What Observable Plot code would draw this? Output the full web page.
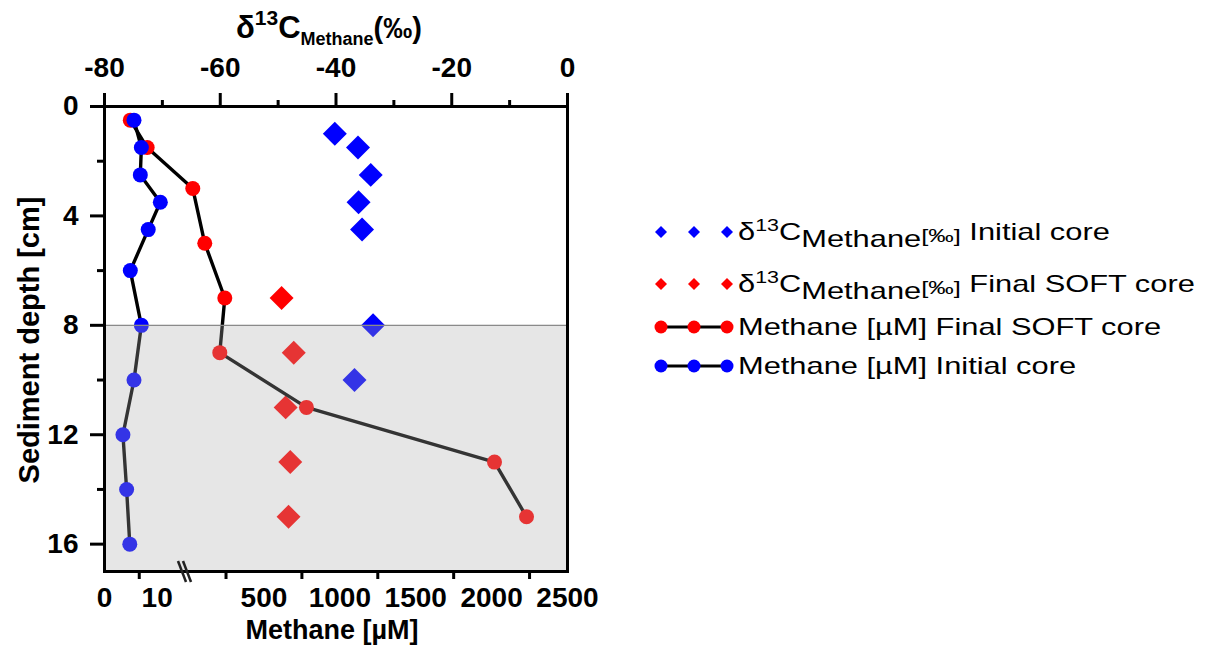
<!DOCTYPE html>
<html>
<head>
<meta charset="utf-8">
<script src="https://cdn.jsdelivr.net/npm/d3@7"></script>
<script src="https://cdn.jsdelivr.net/npm/@observablehq/plot@0.6"></script>
<style>
  body { margin: 0; background: #fff; }
  #wrap { position: relative; width: 1211px; height: 646px; overflow: hidden; background: #fff; }
  #wrap > svg { position: absolute; left: 0; top: 0; }
</style>
</head>
<body>
<div id="wrap"></div>
<script>
// ---------------- data ----------------
// Methane concentration [µM], initial core
const depthInitCH4 = [0.5, 1.5, 2.5, 3.5, 4.5, 6, 8, 10, 12, 14, 16];
const ch4Init      = [5.6, 7.0, 6.8, 10.6, 8.3, 4.9, 7.0, 5.6, 3.5, 4.2, 4.8];
// Methane concentration [µM], final SOFT core
const depthSoftCH4 = [0.5, 1.5, 3, 5, 7, 9, 11, 13, 15];
const ch4Soft      = [4.9, 8.1, 31, 110, 242, 209, 780, 2019, 2230];
// δ13C-CH4 [‰], initial core
const depthInitD13C = [1, 1.5, 2.5, 3.5, 4.5, 8, 10];
const d13cInit      = [-40.2, -36.2, -34.0, -36.1, -35.5, -33.6, -36.8];
// δ13C-CH4 [‰], final SOFT core
const depthSoftD13C = [7, 9, 11, 13, 15];
const d13cSoft      = [-49.4, -47.3, -48.7, -47.9, -48.2];

// axes
const depthTicks      = [0, 4, 8, 12, 16];
const depthMinorTicks = [2, 6, 10, 14];
const depthDomain     = [0, 17];
const d13cTicks       = [-80, -60, -40, -20, 0];
const d13cMinorTicks  = [-70, -50, -30, -10];
const d13cDomain      = [-80, 0];
const ch4TickLabels   = [0, 10, 500, 1000, 1500, 2000, 2500];
const ch4TickMarks    = [6.6, 250, 750, 1250, 1750, 2250];
const ch4Domain       = [0, 15, 16, 2500];   // broken axis: 0–15 | 16–2500
const shadedDepth     = [8, 17];

// legend labels
const legendLabels = ["Initial core", "Final SOFT core", "Methane [µM] Final SOFT core", "Methane [µM] Initial core"];

// ---------------- layout ----------------
const W = 1211, H = 646;
const M = {top: 106, bottom: 75, left: 104, right: 644};
const FONT = '"Liberation Sans", Arial, Helvetica, sans-serif';
const BLUE = "#0000ff", RED = "#ff0000";

const ch4InitData  = depthInitCH4.map((d, i) => ({depth: d, v: ch4Init[i]}));
const ch4SoftData  = depthSoftCH4.map((d, i) => ({depth: d, v: ch4Soft[i]}));
const isoInitData  = depthInitD13C.map((d, i) => ({depth: d, v: d13cInit[i]}));
const isoSoftData  = depthSoftD13C.map((d, i) => ({depth: d, v: d13cSoft[i]}));

const common = {
  width: W, height: H,
  marginTop: M.top, marginBottom: M.bottom, marginLeft: M.left, marginRight: M.right,
  style: {background: "none", fontFamily: FONT, fontWeight: "bold", color: "black"}
};

// ---- lower layer: δ13C (top axis) ----
const plotIso = Plot.plot({
  ...common,
  x: {domain: d13cDomain, label: null},
  y: {domain: depthDomain, reverse: true, axis: null, label: null},
  marks: [
    Plot.dot(isoSoftData, {x: "v", y: "depth", symbol: "diamond2", r: 10.8, fill: RED, stroke: "none"}),
    Plot.dot(isoInitData, {x: "v", y: "depth", symbol: "diamond2", r: 10.8, fill: BLUE, stroke: "none"}),
    Plot.axisX({ticks: d13cTicks, anchor: "top", tickSize: 14, tickPadding: 16, strokeWidth: 3,
                fontSize: 28, label: null, tickFormat: d => String(d)}),
    Plot.axisX({ticks: d13cMinorTicks, anchor: "top", tickSize: 7, strokeWidth: 3,
                label: null, tickFormat: () => ""})
  ]
});

// ---- upper layer: methane (bottom axis), depth axis, shading, frame ----
const xRange = [M.left, 183, 190, W - M.right];
const plotCH4 = Plot.plot({
  ...common,
  x: {type: "linear", domain: ch4Domain, range: xRange, label: null},
  y: {domain: depthDomain, reverse: true, label: null},
  marks: [
    Plot.line(ch4SoftData, {x: "v", y: "depth", stroke: "black", strokeWidth: 3.4}),
    Plot.line(ch4InitData, {x: "v", y: "depth", stroke: "black", strokeWidth: 3.4}),
    Plot.dot(ch4SoftData, {x: "v", y: "depth", r: 7.5, fill: RED, stroke: "none"}),
    Plot.dot(ch4InitData, {x: "v", y: "depth", r: 7.5, fill: BLUE, stroke: "none"}),
    Plot.rect([shadedDepth], {y1: d => d[0], y2: d => d[1], fill: "rgb(172,172,172)", fillOpacity: 0.3}),
    Plot.ruleY([shadedDepth[0]], {stroke: "#8a8a8a", strokeWidth: 1.2}),
    Plot.frame({stroke: "black", strokeWidth: 3}),
    Plot.axisY({ticks: depthTicks, anchor: "left", tickSize: 14, tickPadding: 12, strokeWidth: 3,
                fontSize: 28, label: null, tickFormat: d => String(d)}),
    Plot.axisY({ticks: depthMinorTicks, anchor: "left", tickSize: 7, strokeWidth: 3,
                label: null, tickFormat: () => ""}),
    Plot.axisX({ticks: ch4TickMarks, anchor: "bottom", tickSize: 8, strokeWidth: 3,
                label: null, tickFormat: () => ""}),
    Plot.axisX({ticks: ch4TickLabels, anchor: "bottom", tickSize: 0, tickPadding: 16,
                fontSize: 28, label: null, tickFormat: d => String(d)})
  ]
});

const wrap = document.getElementById("wrap");
wrap.appendChild(plotIso);
wrap.appendChild(plotCH4);

// ---------------- annotations ----------------
const svg = d3.select(plotCH4);
const xs = plotCH4.scale("x");
const yBottom = H - M.bottom;

// axis break marks
const bx = xs.apply((ch4Domain[1] + ch4Domain[2]) / 2);
const brk = svg.append("g").attr("stroke", "#222").attr("stroke-width", 2.5);
[-8.5, -3.5].forEach(o => {
  brk.append("line").attr("x1", bx + o).attr("y1", yBottom - 10).attr("x2", bx + o + 8).attr("y2", yBottom + 11);
});

// top title δ13C Methane (‰)
const tt = svg.append("text").attr("x", 236).attr("y", 38).attr("text-anchor", "start")
  .attr("font-size", 31).attr("font-weight", "bold");
tt.append("tspan").text("δ");
tt.append("tspan").attr("font-size", 21).attr("dy", -13).text("13");
tt.append("tspan").attr("dy", 13).text("C");
tt.append("tspan").attr("font-size", 18).attr("dy", 7).text("Methane");
tt.append("tspan").attr("font-size", 29).attr("dy", -7).text("(‰)");

// bottom title
svg.append("text").attr("x", 332).attr("y", 639).attr("text-anchor", "middle")
  .attr("font-size", 27).attr("font-weight", "bold").text("Methane [µM]");

// left title
svg.append("text").attr("transform", "translate(39,340) rotate(-90)").attr("text-anchor", "middle")
  .attr("font-size", 29).attr("font-weight", "bold").text("Sediment depth [cm]");

// ---------------- legend ----------------
const legRows = [
  {y: 232, kind: "diamond", color: BLUE, iso: true,  label: legendLabels[0]},
  {y: 284, kind: "diamond", color: RED,  iso: true,  label: legendLabels[1]},
  {y: 327, kind: "circle",  color: RED,  iso: false, label: legendLabels[2]},
  {y: 366, kind: "circle",  color: BLUE, iso: false, label: legendLabels[3]}
];
const mx = [661, 694, 727];
const leg = svg.append("g");
legRows.forEach(r => {
  if (r.kind === "circle") {
    leg.append("line").attr("x1", mx[0]).attr("x2", mx[2]).attr("y1", r.y).attr("y2", r.y)
      .attr("stroke", "black").attr("stroke-width", 3);
    mx.forEach(x => leg.append("circle").attr("cx", x).attr("cy", r.y).attr("r", 6.5).attr("fill", r.color));
  } else {
    mx.forEach(x => leg.append("path")
      .attr("d", `M${x},${r.y - 6}L${x + 6},${r.y}L${x},${r.y + 6}L${x - 6},${r.y}Z`).attr("fill", r.color));
  }
  const g = leg.append("g").attr("transform", `translate(738,${r.y + 8}) scale(1.34,1)`);
  const t = g.append("text").attr("text-anchor", "start").attr("font-size", 23).attr("style", "font-weight:normal");
  if (r.iso) {
    t.append("tspan").text("δ");
    t.append("tspan").attr("font-size", 16).attr("dy", -9).text("13");
    t.append("tspan").attr("dy", 9).text("C");
    t.append("tspan").attr("font-size", 23).attr("dy", 7).text("Methane");
    t.append("tspan").attr("font-size", 19).attr("dy", -5).text("[‰]");
    t.append("tspan").attr("dy", -2).text(" " + r.label);
  } else {
    t.append("tspan").text(r.label);
  }
});
</script>
</body>
</html>
